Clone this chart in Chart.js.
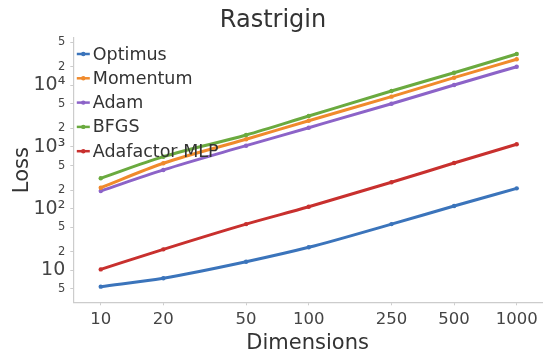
<!DOCTYPE html>
<html>
<head>
<meta charset="utf-8">
<script src="https://cdn.jsdelivr.net/npm/chart.js@4"></script>
<style>
  html, body { margin: 0; padding: 0; background: #fff; }
  #wrap { width: 546px; height: 354px; }
</style>
</head>
<body>
<div id="wrap"><canvas id="loss-chart"></canvas></div>
<script>
// Problem sizes on the x axis
const dimensions = [10, 20, 50, 100, 250, 500, 1000];

// Final loss per optimizer
const optimus    = [5.4, 7.4, 13.7, 23.5, 56, 110, 213];
const momentum   = [218, 544, 1334, 2672, 6560, 13340, 26550];
const adam       = [193, 424, 1050, 2057, 5046, 10150, 20100];
const bfgs       = [310, 696, 1566, 3185, 8110, 16070, 32350];
const adafactor  = [10.3, 21.8, 56, 107, 267, 550, 1107];

const seriesNames = ['Optimus', 'Momentum', 'Adam', 'BFGS', 'Adafactor MLP'];
const seriesColors = ['#3b74bb', '#f08a2c', '#8c63c8', '#6aaa3f', '#c8302e'];
const seriesValues = [optimus, momentum, adam, bfgs, adafactor];

// Tick positions
const xTicks = [10, 20, 50, 100, 250, 500, 1000];
const yTicks = [5, 10, 20, 50, 100, 200, 500, 1000, 2000, 5000, 10000, 20000, 50000];
const decadeLabels = { 10: '10', 100: '10\u00B2', 1000: '10\u00B3', 10000: '10\u2074' };

const FONT = "'DejaVu Sans', Verdana, sans-serif";

const datasets = seriesNames.map((name, i) => ({
    label: name,
    data: dimensions.map((d, j) => ({ x: d, y: seriesValues[i][j] })),
    borderColor: seriesColors[i],
    backgroundColor: seriesColors[i],
    borderWidth: 3,
    pointRadius: 2.2,
    pointBorderWidth: 0,
    cubicInterpolationMode: 'monotone'
}));

// Legend drawn inside the plot, over the lines
const insideLegend = {
    id: 'insideLegend',
    afterDatasetsDraw(chart) {
        const { ctx, chartArea } = chart;
        const x0 = chartArea.left + 3.5;
        let y = chartArea.top + 16;
        ctx.save();
        ctx.font = `17.5px ${FONT}`;
        ctx.textBaseline = 'middle';
        chart.data.datasets.forEach(ds => {
            ctx.strokeStyle = ds.borderColor;
            ctx.lineWidth = 2.5;
            ctx.beginPath();
            ctx.moveTo(x0, y);
            ctx.lineTo(x0 + 13, y);
            ctx.stroke();
            ctx.fillStyle = ds.borderColor;
            ctx.beginPath();
            ctx.arc(x0 + 6.5, y, 2.2, 0, Math.PI * 2);
            ctx.fill();
            ctx.fillStyle = '#333';
            ctx.fillText(ds.label, x0 + 16, y + 1);
            y += 24.3;
        });
        ctx.restore();
    }
};

new Chart(document.getElementById('loss-chart'), {
    type: 'line',
    data: { datasets },
    plugins: [insideLegend],
    options: {
        responsive: true,
        maintainAspectRatio: false,
        animation: false,
        layout: { padding: 0 },
        plugins: {
            legend: { display: false },
            tooltip: { enabled: false },
            title: {
                display: true,
                text: 'Rastrigin',
                color: '#333',
                font: { family: FONT, size: 24, weight: 'normal', lineHeight: 1.2 },
                padding: { top: 6.3, bottom: 2.9 }
            }
        },
        scales: {
            x: {
                type: 'logarithmic',
                min: 7.38,
                max: 1323,
                afterBuildTicks: scale => { scale.ticks = xTicks.map(v => ({ value: v })); },
                afterFit: scale => { scale.height = 51.7; },
                ticks: {
                    color: '#444',
                    font: { family: FONT, size: 16.5 },
                    padding: 4.8,
                    maxRotation: 0,
                    autoSkip: false,
                    callback: value => String(value)
                },
                grid: { drawOnChartArea: false, tickLength: 3, color: '#ccc' },
                border: { color: '#ccc', width: 1.2 },
                title: {
                    display: true,
                    text: 'Dimensions',
                    color: '#333',
                    font: { family: FONT, size: 21, lineHeight: 1 },
                    padding: { top: 0, bottom: 0 }
                }
            },
            y: {
                type: 'logarithmic',
                min: 3.01,
                max: 58800,
                afterBuildTicks: scale => { scale.ticks = yTicks.map(v => ({ value: v })); },
                afterFit: scale => { scale.width = 73.3; },
                ticks: {
                    color: '#444',
                    autoSkip: false,
                    padding: 5,
                    font: ctx => {
                        const major = decadeLabels[ctx.tick && ctx.tick.value] !== undefined;
                        return { family: FONT, size: major ? 19 : 11.5 };
                    },
                    callback: value => decadeLabels[value] || String(value).charAt(0)
                },
                grid: { drawOnChartArea: false, tickLength: 3, color: '#ccc' },
                border: { color: '#ccc', width: 1.2 },
                title: {
                    display: true,
                    text: 'Loss',
                    color: '#333',
                    font: { family: FONT, size: 21, lineHeight: 1.2 },
                    padding: { top: 10, bottom: 0 }
                }
            }
        }
    }
});
</script>
</body>
</html>
